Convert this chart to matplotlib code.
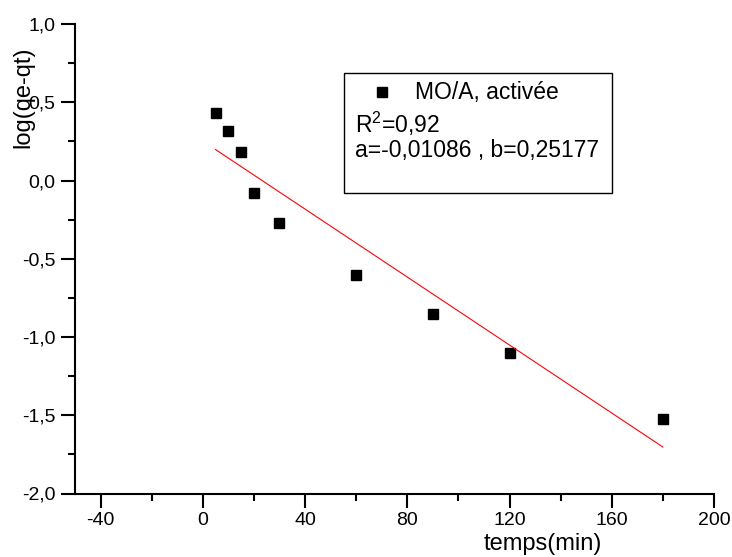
import numpy as np
import matplotlib
matplotlib.use("Agg")
import matplotlib.pyplot as plt
from matplotlib.ticker import MultipleLocator, FuncFormatter

# Kinetic data: log(qe - qt) versus contact time
temps = [5, 10, 15, 20, 30, 60, 90, 120, 180]
log_qe_qt = [0.43, 0.315, 0.183, -0.08, -0.27, -0.605, -0.855, -1.10, -1.525]

# Linear fit parameters
slope = -0.01086
intercept = 0.25177
r2 = 0.92

plt.rcParams['font.family'] = ['Liberation Sans', 'DejaVu Sans']
plt.rcParams['mathtext.fontset'] = 'custom'
plt.rcParams['mathtext.rm'] = 'Liberation Sans'
plt.rcParams['mathtext.it'] = 'Liberation Sans'
plt.rcParams['mathtext.default'] = 'regular'

fig = plt.figure(figsize=(7.32, 5.57), dpi=100)
ax = fig.add_axes([75 / 732, 1 - 493.5 / 557, (714 - 75) / 732, (493.5 - 24) / 557])

ax.plot(temps, log_qe_qt, linestyle='none', marker='s', markersize=7.5,
        color='black', label='MO/A, activée')

x_fit = np.array([temps[0], temps[-1]])
ax.plot(x_fit, slope * x_fit + intercept, color='red', linewidth=0.8)

ax.set_xlim(-50, 200)
ax.set_ylim(-2.0, 1.0)

ax.xaxis.set_major_locator(MultipleLocator(40))
ax.xaxis.set_minor_locator(MultipleLocator(20))
ax.yaxis.set_major_locator(MultipleLocator(0.5))
ax.yaxis.set_minor_locator(MultipleLocator(0.25))

ax.xaxis.set_major_formatter(FuncFormatter(lambda v, p: f"{v:.0f}"))
ax.yaxis.set_major_formatter(FuncFormatter(lambda v, p: f"{v:.1f}".replace('.', ',')))

for side in ('top', 'right'):
    ax.spines[side].set_visible(False)
for side in ('left', 'bottom'):
    ax.spines[side].set_linewidth(1.5)

ax.tick_params(which='major', direction='out', length=10, width=1.5, labelsize=14)
ax.tick_params(axis='x', which='major', pad=3)
ax.tick_params(axis='y', which='major', pad=4)
ax.tick_params(which='minor', direction='out', length=5, width=1.5)

fig.text(543 / 732, 1 - 544 / 557, 'temps(min)', ha='center', va='center', fontsize=17)
fig.text(23 / 732, 1 - 97 / 557, 'log(qe-qt)', ha='center', va='center',
         rotation=90, fontsize=17)

# Legend box with fit statistics
box = plt.Rectangle((344 / 732, 1 - 193 / 557), (612 - 344) / 732, (193 - 73) / 557,
                    transform=fig.transFigure, fill=False, edgecolor='black',
                    linewidth=1.0)
fig.add_artist(box)
fig.lines.append(plt.Line2D([382 / 732], [1 - 92 / 557], transform=fig.transFigure,
                            marker='s', markersize=7.5, color='black', linestyle='none'))
fig.text(415 / 732, 1 - 92 / 557, 'MO/A, activée', ha='left', va='center', fontsize=16.5)
fig.text(355 / 732, 1 - 124 / 557, f'R$^2$={r2:.2f}'.replace('.', ','),
         ha='left', va='center', fontsize=16.5)
fig.text(355 / 732, 1 - 150 / 557,
         f'a={slope:.5f} , b={intercept:.5f}'.replace('.', ','),
         ha='left', va='center', fontsize=16.5)

fig.savefig('out.png', dpi=100)
